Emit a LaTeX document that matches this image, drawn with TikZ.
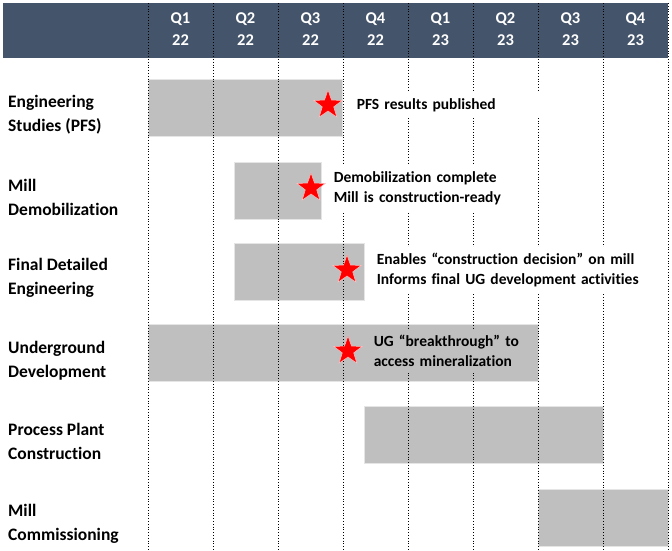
\documentclass[tikz,border=0pt]{standalone}
\usepackage{fontspec}
\setmainfont{Carlito}[Ligatures=NoCommon]
\usetikzlibrary{positioning,shapes.geometric}
\definecolor{hdrblue}{HTML}{44546A}
\definecolor{bargray}{HTML}{BFBFBF}

\begin{document}
\begin{tikzpicture}[
    x=1pt, y=-1pt,
    font=\bfseries,
    hdr/.style={text=white, align=center, inner sep=0pt,
                font=\fontsize{16.5}{22}\selectfont\bfseries},
    task/.style={align=left, anchor=west, inner sep=0pt,
                 font=\fontsize{17.5}{24}\selectfont\bfseries},
    bar/.style={fill=bargray, draw=gray!20, line width=0.6pt, minimum height=57pt,
                inner sep=0pt, anchor=north west},
    milestone/.style={star, star points=5, star point ratio=2.5, fill=red,
                      draw=red!25, line width=0.5pt, minimum size=30pt, inner sep=0pt},
    note/.style={align=left, anchor=west, inner xsep=3pt, inner ysep=6pt, fill=white,
                 text width=#1, font=\fontsize{15.5}{20}\selectfont\bfseries},
    note/.default=190pt,
  ]
  \useasboundingbox (0,0) rectangle (672,550);

  % header band with quarters
  \fill[hdrblue] (3,3) rectangle (668,58);
  \foreach \q/\yr [count=\i from 0] in {Q1/22,Q2/22,Q3/22,Q4/22,Q1/23,Q2/23,Q3/23,Q4/23}
    \node[hdr] (h\i) at (180.5+65*\i, 29) {\q\\\yr};

  % task bars
  \node[bar, minimum width=194pt] (b1) at (148,79) {};
  \node[bar, minimum width=87pt]  (b2) at (234,162) {};
  \node[bar, minimum width=130pt] (b3) at (234,243) {};
  \node[bar, minimum width=390pt] (b4) at (148,324) {};
  \node[bar, minimum width=239pt] (b5) at (364,406) {};
  \node[bar, minimum width=130pt] (b6) at (538,489) {};

  % quarter boundaries
  \foreach \i in {0,...,8}
    \draw[dotted, line width=0.8pt] (148+65*\i,3) -- (148+65*\i,550);

  % milestones
  \node[milestone] (s1) at (328,105) {};
  \node[milestone] (s2) at (311,188) {};
  \node[milestone] (s3) at (347,270) {};
  \node[milestone] (s4) at (348,351) {};
  \node[note] (m1) [right=17pt of s1] {PFS results published};
  \node[note] (m2) [right=11pt of s2] {Demobilization complete\\Mill is construction-ready};
  \node[note=285pt] (m3) [right=18pt of s3] {Enables “construction decision” on mill\\Informs final UG development activities};
  \node[note=150pt, fill=bargray] (m4) [right=14pt of s4] {UG “breakthrough” to\\access mineralization};

  % task names
  \node[task] (t1) at (8,115) {Engineering\\Studies (PFS)};
  \node[task] (t2) at (8,197) {Mill\\Demobilization};
  \node[task] (t3) at (8,278) {Final Detailed\\Engineering};
  \node[task] (t4) at (8,361) {Underground\\Development};
  \node[task] (t5) at (8,441) {Process Plant\\Construction};
  \node[task] (t6) at (8,524) {Mill\\Commissioning};
\end{tikzpicture}
\end{document}
